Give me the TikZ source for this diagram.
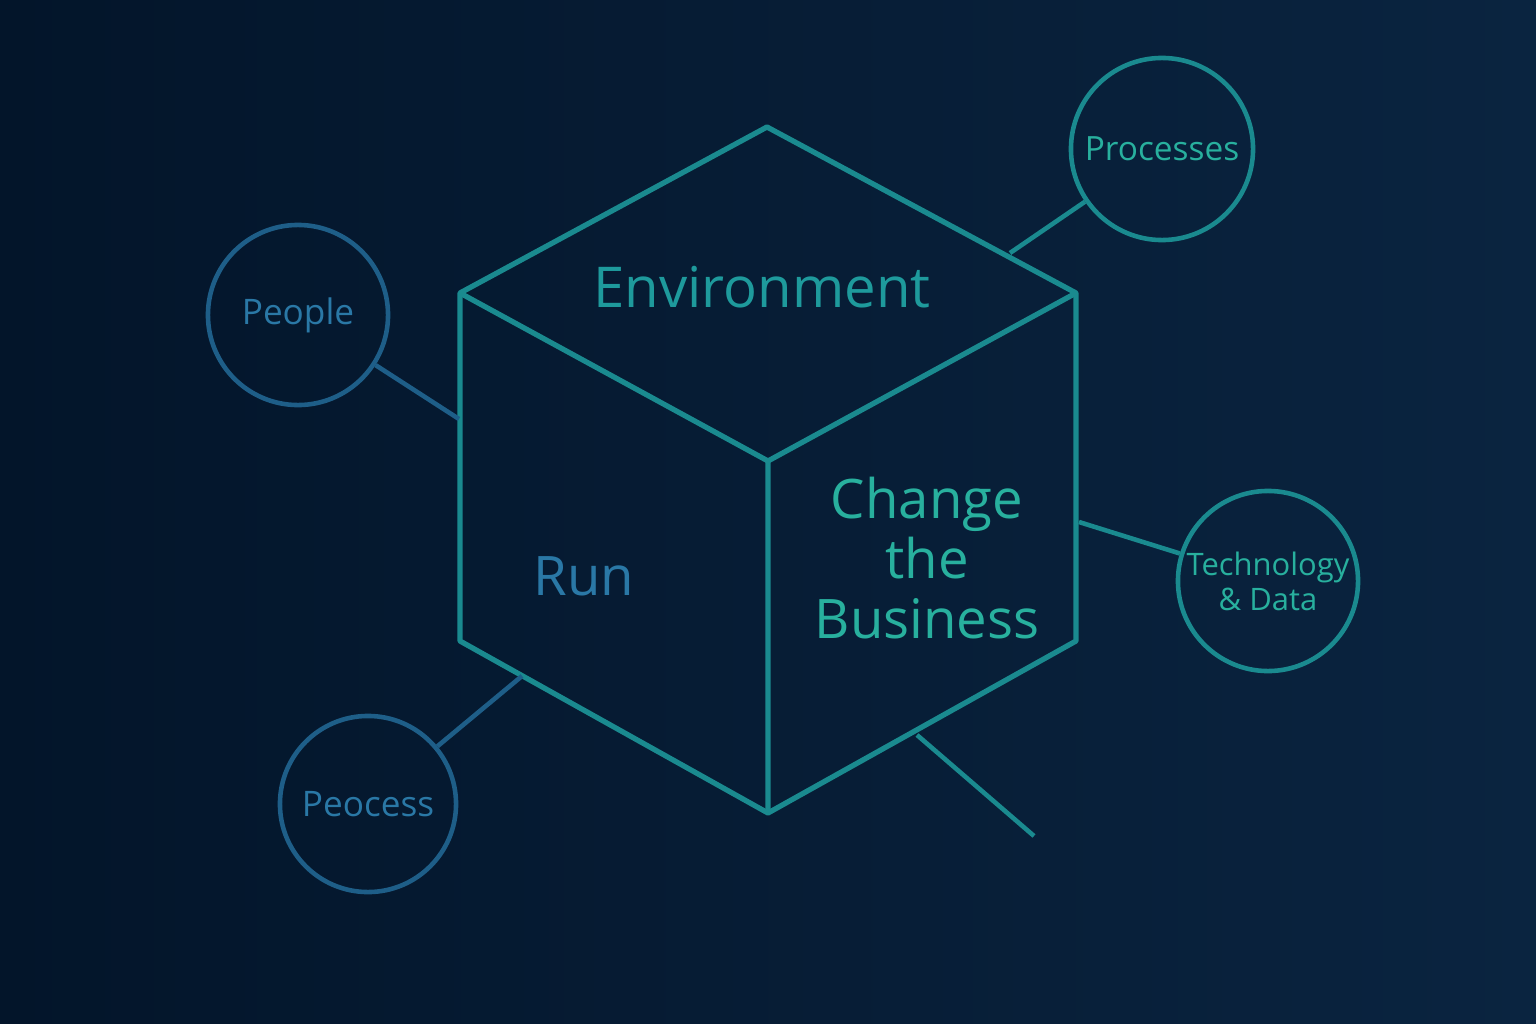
\documentclass[tikz,border=0pt]{standalone}
\usepackage{fontspec}
\setmainfont{Open Sans}
\definecolor{bgA}{HTML}{03152A}
\definecolor{bgB}{HTML}{0A2440}
\definecolor{cubec}{HTML}{1A8A8F}
\definecolor{bluec}{HTML}{1E5E88}
\definecolor{bluet}{HTML}{2A78A6}
\definecolor{tealt}{HTML}{28B09E}
\definecolor{envt}{HTML}{1E9A9C}
\begin{document}
\begin{tikzpicture}[x=0.01cm,y=-0.01cm,
  edge/.style={draw=cubec,line width=1.5pt,line join=round},
  bcirc/.style={circle,draw=bluec,line width=1.3pt,text=bluet},
  tcirc/.style={circle,draw=cubec,line width=1.3pt,text=tealt},
  link/.style={draw=bluec,line width=1.3pt},
  tlink/.style={draw=cubec,line width=1.3pt}]
\shade[left color=bgA,right color=bgB] (0,0) rectangle (1536,1024);
\useasboundingbox (0,0) rectangle (1536,1024);
\coordinate (T) at (767,127);
\coordinate (TL) at (460,293);
\coordinate (TR) at (1076,293);
\coordinate (C) at (768,461);
\coordinate (BL) at (460,641);
\coordinate (BR) at (1076,641);
\coordinate (B) at (768,813);
\draw[edge] (T)--(TR)--(BR)--(B)--(BL)--(TL)--cycle;
\draw[edge] (TL)--(C)--(TR) (C)--(B);
\node[text=envt,font=\fontsize{16}{20}\selectfont] (env) at (762,287) {Environment};
\node[text=bluet,font=\fontsize{15.5}{20}\selectfont] (run) at (584,576) {Run};
\node[text=tealt,font=\fontsize{15.5}{17}\selectfont,align=center] (chg) at (927,558) {Change\\the\\Business};
\node[tcirc,inner sep=0pt,minimum size=1.82cm,font=\fontsize{9.5}{12}\selectfont] (proc) at (1162,149) {Processes};
\node[bcirc,inner sep=0pt,minimum size=1.80cm,font=\fontsize{10}{12}\selectfont] (ppl) at (298,315) {People};
\node[tcirc,inner sep=0pt,minimum size=1.80cm,align=center,font=\fontsize{8.8}{10}\selectfont] (tech) at (1268,581) {Technology\\\& Data};
\node[bcirc,inner sep=0pt,minimum size=1.76cm,font=\fontsize{10}{12}\selectfont] (peo) at (368,804) {Peocess};
\coordinate (a1) at (1010,253);
\coordinate (a2) at (459,419);
\coordinate (a3) at (1079,522);
\coordinate (a4) at (522,676);
\coordinate (f1) at (917,735);
\coordinate (f2) at (1034,836);
\draw[tlink] (a1)--(proc);
\draw[link] (a2)--(ppl);
\draw[tlink] (a3)--(tech);
\draw[link] (a4)--(peo);
\draw[tlink] (f1)--(f2);
\end{tikzpicture}
\end{document}
